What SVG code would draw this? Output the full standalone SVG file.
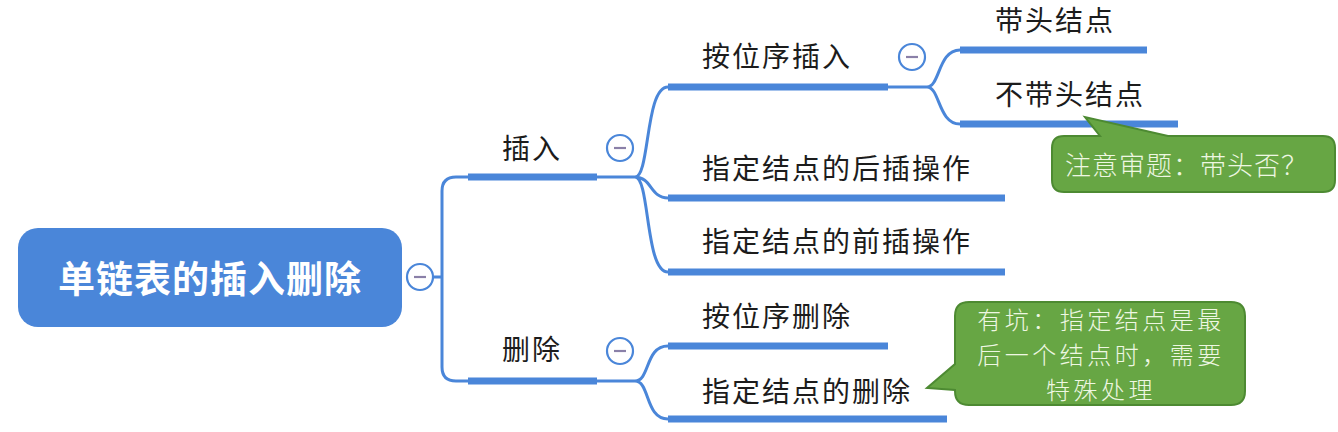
<svg xmlns="http://www.w3.org/2000/svg" width="1338" height="432" viewBox="0 0 1338 432">
<style>
.t{font-family:"Noto Sans CJK SC","Noto Sans",sans-serif;font-size:28px;fill:#1c1c1c;letter-spacing:2px}
.ul{stroke:#4a86d9;stroke-width:7;fill:none}
.cn{stroke:#4a86d9;stroke-width:3;fill:none;stroke-linecap:round}
.cb circle{fill:#fff;stroke:#4a86d9;stroke-width:2.2}
.cb line{stroke:#8a80a8;stroke-width:2.2}
.co{fill:#67a644;stroke:#4d8a32;stroke-width:2}
.ct{font-family:"Noto Sans CJK SC","Noto Sans",sans-serif;font-size:26px;fill:#eef7e2;font-weight:300;letter-spacing:1px}
.ct2{font-family:"Noto Sans CJK SC","Noto Sans",sans-serif;font-size:24px;fill:#eef7e2;font-weight:300;letter-spacing:3.5px}
</style>
<g id="connectors">
<path class="cn" d="M434 277 H442 M442 277 V191 Q442 177 456 177 H468 M442 277 V367 Q442 381 456 381 H468"/>
<path class="cn" d="M597 177 H635 M635 177 C650 177 645 87 668 87 M635 177 C652 177 650 198 668 198 M635 177 C650 177 645 272 668 272"/>
<path class="cn" d="M888 87 H927 M927 87 C940 87 938 50 960 50 M927 87 C940 87 938 124 960 124"/>
<path class="cn" d="M597 381 H635 M635 381 C650 381 645 346 668 346 M635 381 C650 381 645 419 668 419"/>
</g>
<g id="root">
<rect x="18" y="228" width="384" height="99" rx="20" fill="#4a86d9"/>
<text x="210" y="293" text-anchor="middle" style="font-family:'Noto Sans CJK SC','Noto Sans',sans-serif;font-size:37px;font-weight:bold;fill:#fff;letter-spacing:1px">单链表的插入删除</text>
<g class="cb"><circle cx="420" cy="277" r="13"/><line x1="414" y1="277" x2="426" y2="277"/></g>
</g>
<g id="n-insert">
<line class="ul" x1="468" y1="177" x2="597" y2="177"/>
<text class="t" x="502" y="159">插入</text>
<g class="cb"><circle cx="620" cy="148" r="13"/><line x1="614" y1="148" x2="626" y2="148"/></g>
</g>
<g id="n-delete">
<line class="ul" x1="468" y1="381" x2="597" y2="381"/>
<text class="t" x="502" y="360">删除</text>
<g class="cb"><circle cx="620" cy="351" r="13"/><line x1="614" y1="351" x2="626" y2="351"/></g>
</g>
<g id="n-insert-order">
<line class="ul" x1="668" y1="87" x2="888" y2="87"/>
<text class="t" x="702" y="67">按位序插入</text>
<g class="cb"><circle cx="912" cy="57" r="13"/><line x1="906" y1="57" x2="918" y2="57"/></g>
</g>
<g id="n-head">
<line class="ul" x1="960" y1="50" x2="1147" y2="50"/>
<text class="t" x="995" y="31">带头结点</text>
</g>
<g id="n-nohead">
<line class="ul" x1="960" y1="124" x2="1178" y2="124"/>
<text class="t" x="995" y="105">不带头结点</text>
</g>
<g id="n-after">
<line class="ul" x1="668" y1="198" x2="1005" y2="198"/>
<text class="t" x="702" y="179">指定结点的后插操作</text>
</g>
<g id="n-before">
<line class="ul" x1="668" y1="272" x2="1005" y2="272"/>
<text class="t" x="702" y="252">指定结点的前插操作</text>
</g>
<g id="n-delete-order">
<line class="ul" x1="668" y1="346" x2="888" y2="346"/>
<text class="t" x="702" y="327">按位序删除</text>
</g>
<g id="n-delete-node">
<line class="ul" x1="668" y1="419" x2="947" y2="419"/>
<text class="t" x="702" y="402">指定结点的删除</text>
</g>
<g id="callout-1">
<path class="co" d="M1064 136 H1100 L1085 117 L1168 136 H1323 Q1335 136 1335 148 V180 Q1335 192 1323 192 H1064 Q1052 192 1052 180 V148 Q1052 136 1064 136 Z"/>
<text class="ct" x="1065" y="175">注意审题：带头否？</text>
</g>
<g id="callout-2">
<path class="co" d="M969 302 H1231 Q1245 302 1245 316 V391 Q1245 405 1231 405 H969 Q955 405 955 391 V390 L927 388 L955 364 V316 Q955 302 969 302 Z"/>
<text class="ct2" x="1101" y="329" text-anchor="middle">有坑：指定结点是最</text>
<text class="ct2" x="1101" y="364" text-anchor="middle">后一个结点时，需要</text>
<text class="ct2" x="1101" y="399" text-anchor="middle">特殊处理</text>
</g>
</svg>
